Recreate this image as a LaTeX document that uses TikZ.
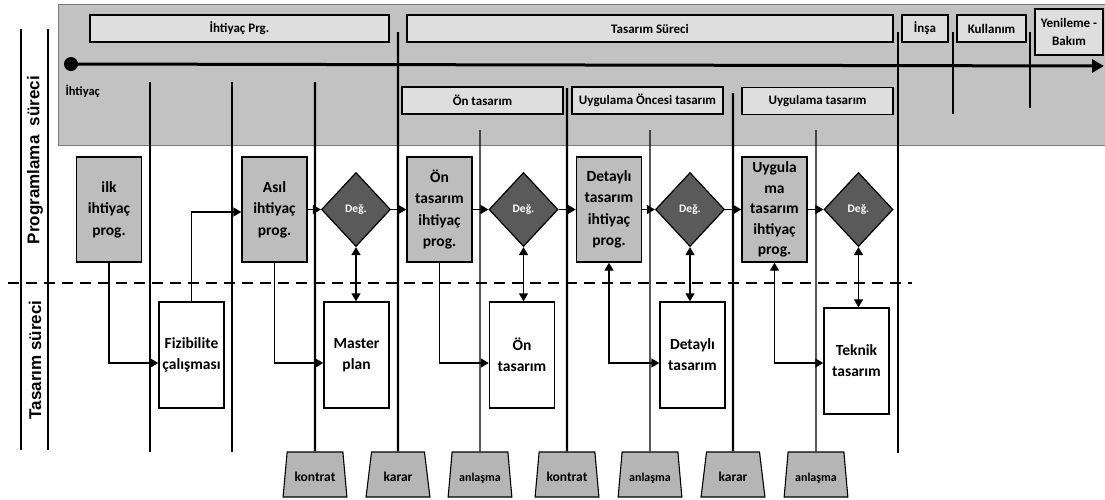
\documentclass[tikz,border=0pt]{standalone}
\usepackage{fontspec}
\setmainfont{Carlito}
\newfontfamily\arialfont{Liberation Sans}
\usetikzlibrary{arrows.meta,shapes.geometric}
\definecolor{bandgray}{HTML}{C2C2C2}
\definecolor{bandedge}{HTML}{7A7A7A}
\definecolor{boxlight}{HTML}{DEDEDE}
\definecolor{progfill}{HTML}{BDBDBD}
\definecolor{diafill}{HTML}{5A5A5A}
\definecolor{trapfill}{HTML}{B5B5B5}
\tikzset{
 thickline/.style={line width=2.3pt},
 thinline/.style={line width=1.1pt},
 phasebox/.style={draw=black, line width=1.2pt, fill=boxlight, inner sep=0pt, minimum height=27pt, font=\bfseries\fontsize{13}{18}\selectfont, align=center},
 progbox/.style={draw=black, line width=1.4pt, fill=progfill, inner sep=0pt, minimum width=65pt, minimum height=105pt, font=\bfseries\fontsize{15.5}{21.5}\selectfont, align=center},
 workbox/.style={draw=black, line width=1.4pt, fill=white, inner sep=0pt, minimum width=65pt, minimum height=106pt, font=\bfseries\fontsize{15.5}{21}\selectfont, align=center},
 dec/.style={diamond, draw=black, line width=1.2pt, fill=diafill, text=white, inner sep=0pt, minimum width=69pt, minimum height=74pt, font=\bfseries\fontsize{11.5}{13}\selectfont},
 gate/.style={trapezium, trapezium left angle=78, trapezium right angle=78, trapezium stretches=true, draw=black, line width=1.1pt, fill=trapfill, minimum width=64pt, minimum height=45pt, inner sep=0pt, text height=14pt, text depth=0pt, font=\bfseries\fontsize{13.5}{15}\selectfont},
 smallgate/.style={gate, font=\bfseries\fontsize{12}{14}\selectfont},
 arr/.style={line width=1.4pt, -{Triangle[length=8pt,width=9pt]}},
 darr/.style={line width=1.4pt, {Triangle[length=8pt,width=9pt]}-{Triangle[length=8pt,width=9pt]}},
}
\begin{document}
\begin{tikzpicture}[x=1pt,y=-1pt]
\useasboundingbox (0,0) rectangle (1105,499);
% grey band
\draw[draw=bandedge, line width=1pt, fill=bandgray] (58,4) rectangle (1108,145);

% phase boxes
\node[phasebox, minimum width=299pt] (pIht) at (239.5,28.5) {İhtiyaç Prg.};
\node[phasebox, minimum width=486pt] (pTas) at (650,28.5) {Tasarım Süreci};
\node[phasebox, minimum width=46pt] (pInsa) at (925,28.5) {İnşa};
\node[phasebox, minimum width=69pt] (pKul) at (991.5,28.5) {Kullanım};
\node[phasebox, minimum width=68pt, minimum height=46pt] (pYen) at (1069,32) {Yenileme -\\Bakım};
\node[phasebox, minimum width=161pt] (sOn) at (482.5,100.5) {Ön tasarım};
\node[phasebox, minimum width=151pt] (sUO) at (647.5,100.5) {Uygulama Öncesi tasarım};
\node[phasebox, minimum width=151pt] (sUy) at (817.5,101) {Uygulama tasarım};

% timeline
\node[circle, fill=black, minimum size=14pt, inner sep=0pt] (dot) at (71,64) {};
\coordinate (tend) at (1104,66);
\draw[line width=3pt, -{Triangle[length=12pt,width=13pt]}] (dot.center) -- (tend);
\node[anchor=west, font=\bfseries\fontsize{12.5}{14}\selectfont] (ihl) at (62,91) {İhtiyaç};

% side labels
\coordinate (La) at (21,29); \coordinate (Lb) at (21,450);
\coordinate (Ra) at (48,29); \coordinate (Rb) at (48,450);
\draw[thickline] (La) -- (Lb);
\draw[thickline] (Ra) -- (Rb);
\node[rotate=90, font=\arialfont\bfseries\fontsize{17}{20}\selectfont] (lprog) at (35,160) {Programlama\ \ süreci};
\node[rotate=90, font=\arialfont\bfseries\fontsize{17}{20}\selectfont] (ltas) at (35,360) {Tasarım süreci};

% dashed separator
\coordinate (dl) at (8,283); \coordinate (dr) at (912,283);
\draw[line width=2.6pt, dash pattern=on 11pt off 7pt] (dl) -- (dr);

% gates
\node[gate] (g1) at (315,474.5) {kontrat};
\node[gate] (g2) at (398,474.5) {karar};
\node[smallgate] (g3) at (480,474.5) {anlaşma};
\node[gate] (g4) at (567,474.5) {kontrat};
\node[smallgate] (g5) at (650,474.5) {anlaşma};
\node[gate] (g6) at (733,474.5) {karar};
\node[smallgate] (g7) at (816,474.5) {anlaşma};

% vertical phase lines
\coordinate (v1a) at (150,82);  \coordinate (v1b) at (150,452);
\coordinate (v2a) at (232,82);  \coordinate (v2b) at (232,452);
\coordinate (v3a) at (315,82);
\coordinate (v4a) at (398,32);
\coordinate (v5a) at (480,130);
\coordinate (v6a) at (567,88);
\coordinate (v7a) at (650,130);
\coordinate (v8a) at (733,93);
\coordinate (v9a) at (816,130);
\coordinate (v10a) at (898,32); \coordinate (v10b) at (898,453);
\coordinate (v11a) at (953,32); \coordinate (v11b) at (953,114);
\coordinate (v12a) at (1030,32); \coordinate (v12b) at (1030,108);
\draw[thickline] (v1a) -- (v1b);
\draw[thickline] (v2a) -- (v2b);
\draw[thickline] (v3a) -- (g1.north);
\draw[thickline] (v4a) -- (g2.north);
\draw[thinline] (v5a) -- (g3.north);
\draw[thickline] (v6a) -- (g4.north);
\draw[thinline] (v7a) -- (g5.north);
\draw[thickline] (v8a) -- (g6.north);
\draw[thinline] (v9a) -- (g7.north);
\draw[thickline] (v10a) -- (v10b);
\draw[thickline] (v11a) -- (v11b);
\draw[thickline] (v12a) -- (v12b);

% programme boxes
\node[progbox] (b1) at (109,209.5) {ilk\\ihtiyaç\\prog.};
\node[progbox] (b2) at (274.5,209.5) {Asıl\\ihtiyaç\\prog.};
\node[progbox] (b3) at (439.5,209.5) {Ön\\tasarım\\ihtiyaç\\prog.};
\node[progbox] (b4) at (609,209.5) {Detaylı\\tasarım\\ihtiyaç\\prog.};
\node[progbox, font=\bfseries\fontsize{15.5}{20.5}\selectfont] (b5) at (774.5,209.5) {Uygula\\ma\\tasarım\\ihtiyaç\\prog.};

% decision diamonds
\node[dec] (d1) at (356,209.5) {Değ.};
\node[dec] (d2) at (523.5,209.5) {Değ.};
\node[dec] (d3) at (690,209.5) {Değ.};
\node[dec] (d4) at (858.5,209.5) {Değ.};

% work boxes
\node[workbox] (w1) at (191.5,355) {Fizibilite\\çalışması};
\node[workbox] (w2) at (356.5,355) {Master\\plan};
\node[workbox] (w3) at (522,355) {Ön\\tasarım};
\node[workbox] (w4) at (692.5,355) {Detaylı\\tasarım};
\node[workbox] (w5) at (856.5,361) {Teknik\\tasarım};

% connectors
\draw[arr] (b1.south) |- ([yshift=-8pt]w1.west);
\draw[arr] (w1.north) |- ([yshift=-2.5pt]b2.west);
\draw[arr] (b2.south) |- ([yshift=-8pt]w2.west);
\draw[arr] (b3.south) |- ([yshift=-8pt]w3.west);
\draw[darr] (b4.south) |- ([yshift=-8pt]w4.west);
\draw[darr] (b5.south) |- ([yshift=-2pt]w5.west);

\draw[arr] (b2.east) -- (d1.west);
\draw[arr] (d1.east) -- (b3.west);
\draw[arr] (b3.east) -- (d2.west);
\draw[arr] (d2.east) -- (b4.west);
\draw[arr] (b4.east) -- (d3.west);
\draw[arr] (d3.east) -- (b5.west);
\draw[arr] (b5.east) -- (d4.west);

\draw[darr] (d1.south) -- (d1.south |- w2.north);
\draw[darr] (d2.south) -- (d2.south |- w3.north);
\draw[darr] (d3.south) -- (d3.south |- w4.north);
\draw[darr] (d4.south) -- (d4.south |- w5.north);
\end{tikzpicture}
\end{document}
